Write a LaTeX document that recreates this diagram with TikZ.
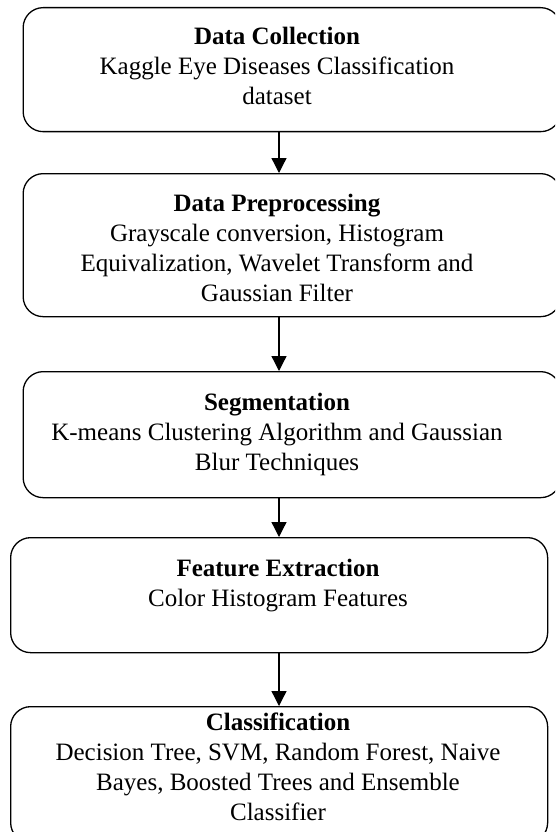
\documentclass[tikz,border=0pt]{standalone}
\usepackage{fontspec}
\setmainfont{Liberation Serif}
\usetikzlibrary{arrows.meta}

\tikzset{
  stage/.style={draw=black, line width=1.3pt, rounded corners=20pt,
    rectangle, inner sep=0pt, anchor=north west},
  stagetext/.style={anchor=north, inner sep=0pt, align=center,
    font=\fontsize{25}{30}\selectfont},
  flow/.style={draw=black, line width=1.3pt,
    -{Triangle[length=15pt,width=15pt]}},
}
% first line of each stage text gets a fixed strut so baselines are predictable
\newcommand{\firstline}[1]{\rule{0pt}{20pt}\textbf{#1}}

\begin{document}
\begin{tikzpicture}[x=1pt,y=-1pt]
  \useasboundingbox (0,0) rectangle (555,832);
  \clip (0,0) rectangle (555,832);

  \coordinate (ax) at (279,0);

  % stage boxes
  \node[stage, minimum width=537.5pt, minimum height=124pt] (b1) at (22.5,7) {};
  \node[stage, minimum width=537.5pt, minimum height=143pt] (b2) at (22.5,173) {};
  \node[stage, minimum width=537.5pt, minimum height=126pt] (b3) at (22.5,371) {};
  \node[stage, minimum width=537pt, minimum height=115pt] (b4) at (10,537) {};
  \node[stage, minimum width=537pt, minimum height=136pt] (b5) at (10,706) {};

  % stage texts
  \node[stagetext] (t1) at (277,24) {\firstline{Data Collection}\\
    Kaggle Eye Diseases Classification\\ dataset};
  \node[stagetext] (t2) at (277,191.7) {\firstline{Data Preprocessing}\\
    Grayscale conversion, Histogram\\
    Equivalization, Wavelet Transform and\\
    Gaussian Filter};
  \node[stagetext] (t3) at (277,390) {\firstline{Segmentation}\\
    K-means Clustering Algorithm and Gaussian\\
    Blur Techniques};
  \node[stagetext] (t4) at (278,556.7) {\firstline{Feature Extraction}\\
    Color Histogram Features};
  \node[stagetext] (t5) at (278,710) {\firstline{Classification}\\
    Decision Tree, SVM, Random Forest, Naive\\
    Bayes, Boosted Trees and Ensemble\\
    Classifier};

  % connectors
  \draw[flow] (b1.south -| ax) -- (b2.north -| ax);
  \draw[flow] (b2.south -| ax) -- (b3.north -| ax);
  \draw[flow] (b3.south -| ax) -- (b4.north -| ax);
  \draw[flow] (b4.south -| ax) -- (b5.north -| ax);
\end{tikzpicture}
\end{document}
